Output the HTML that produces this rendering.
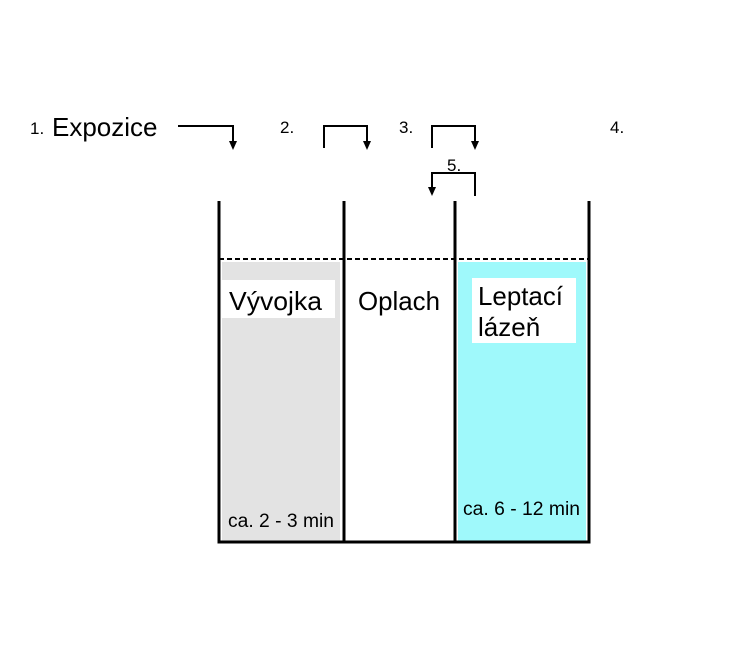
<!DOCTYPE html>
<html><head><style>
body{margin:0;background:#fff;width:750px;height:642px;overflow:hidden;font-family:"Liberation Sans",sans-serif}
</style></head><body>
<svg width="750" height="642" viewBox="0 0 750 642" xmlns="http://www.w3.org/2000/svg" font-family="Liberation Sans, sans-serif">
<rect x="222" y="262" width="118" height="279" fill="#e3e3e3"/>
<rect x="222" y="280" width="113" height="38" fill="#fff"/>
<rect x="458" y="262" width="128" height="279" fill="#9ff9fb"/>
<rect x="472" y="278" width="104" height="65" fill="#fff"/>
<line x1="219" y1="259" x2="588" y2="259" stroke="#000" stroke-width="2" stroke-dasharray="5,3"/>
<g stroke="#000" stroke-width="3" fill="none">
<path d="M219 201V542H589V201"/>
<path d="M344 201V542M455 201V542"/>
</g>
<g stroke="#000" stroke-width="2" fill="none">
<path d="M178 126H233V142"/>
<path d="M324 148V126H367V142"/>
<path d="M432 148V126H475V142"/>
<path d="M475 196V173H432V188"/>
</g>
<g fill="#000">
<path d="M229 141h8l-4 9z"/>
<path d="M363 141h8l-4 9z"/>
<path d="M471 141h8l-4 9z"/>
<path d="M428 187h8l-4 9z"/>
</g>
<text x="30" y="134" font-size="17">1.</text>
<text x="52" y="136" font-size="26">Expozice</text>
<text x="280" y="133" font-size="17">2.</text>
<text x="399" y="133" font-size="17">3.</text>
<text x="610" y="133" font-size="17">4.</text>
<text x="447" y="171" font-size="17">5.</text>
<text x="229" y="310" font-size="26" textLength="93" lengthAdjust="spacingAndGlyphs">Vývojka</text>
<text x="358" y="310" font-size="26" textLength="82" lengthAdjust="spacingAndGlyphs">Oplach</text>
<text x="478" y="305" font-size="26" textLength="85" lengthAdjust="spacingAndGlyphs">Leptací</text>
<text x="478" y="336" font-size="26">lázeň</text>
<text x="228" y="527" font-size="19" textLength="106" lengthAdjust="spacingAndGlyphs">ca. 2 - 3 min</text>
<text x="463" y="515" font-size="19" textLength="117" lengthAdjust="spacingAndGlyphs">ca. 6 - 12 min</text>
</svg>
</body></html>
